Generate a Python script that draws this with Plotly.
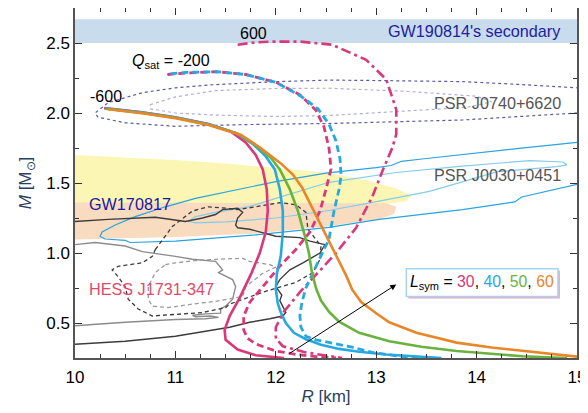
import plotly.graph_objects as go

# ---------------- data ----------------
# Mass-radius curves, Q_sat = -600, L_sym = 30, 40, 50, 60
R_L30 = [10.29, 10.67, 11.0, 11.33, 11.55, 11.7, 11.8, 11.87, 11.91, 11.92, 11.9, 11.84, 11.76, 11.64, 11.54, 11.49, 11.5, 11.62, 11.8, 11.97, 12.08]
M_L30 = [2.035, 2.005, 1.97, 1.922, 1.868, 1.79, 1.70, 1.597, 1.455, 1.3, 1.15, 1.0, 0.86, 0.68, 0.55, 0.45, 0.38, 0.31, 0.27, 0.255, 0.25]

R_L40 = [10.30, 10.67, 11.0, 11.33, 11.6, 11.77, 11.9, 11.99, 12.04, 12.07, 12.07, 12.05, 12.01, 12.0, 12.02, 12.05, 12.1, 12.18, 12.3, 12.45, 12.63, 12.83, 13.1, 13.4, 13.65]
M_L40 = [2.033, 2.003, 1.968, 1.92, 1.857, 1.78, 1.69, 1.597, 1.455, 1.3, 1.15, 0.98, 0.85, 0.74, 0.64, 0.575, 0.5, 0.43, 0.384, 0.345, 0.315, 0.295, 0.275, 0.26, 0.25]

R_L50 = [10.31, 10.67, 11.0, 11.33, 11.62, 11.8, 11.95, 12.04, 12.14, 12.22, 12.29, 12.33, 12.36, 12.4, 12.45, 12.53, 12.63, 12.83, 13.13, 13.45, 13.8, 14.15, 14.46, 14.7, 14.9]
M_L50 = [2.03, 2.0, 1.966, 1.918, 1.852, 1.77, 1.68, 1.597, 1.455, 1.3, 1.12, 1.0, 0.86, 0.75, 0.66, 0.58, 0.51, 0.43, 0.37, 0.33, 0.30, 0.278, 0.262, 0.255, 0.25]

R_L60 = [10.33, 10.67, 11.0, 11.33, 11.65, 11.85, 12.05, 12.17, 12.26, 12.37, 12.44, 12.52, 12.6, 12.7, 12.76, 12.85, 13.0, 13.13, 13.4, 13.8, 14.15, 14.46, 14.75, 15.0]
M_L60 = [2.027, 1.998, 1.963, 1.915, 1.845, 1.75, 1.64, 1.56, 1.47, 1.31, 1.22, 1.1, 0.98, 0.84, 0.74, 0.65, 0.57, 0.505, 0.43, 0.36, 0.325, 0.30, 0.275, 0.26]

# Q_sat = -200 (L_sym = 30, 40)
R_Q200_L30 = [10.92, 11.1, 11.41, 11.7, 12.0, 12.24, 12.4, 12.48, 12.53, 12.55, 12.5, 12.44, 12.34, 12.2, 12.04, 11.87, 11.74, 11.68, 11.68, 11.72, 11.8, 12.0, 12.2, 12.4, 12.6]
M_Q200_L30 = [2.275, 2.285, 2.295, 2.275, 2.22, 2.13, 2.02, 1.9, 1.75, 1.6, 1.455, 1.3, 1.15, 1.025, 0.906, 0.76, 0.647, 0.55, 0.45, 0.39, 0.35, 0.30, 0.276, 0.26, 0.25]

R_Q200_L40 = [10.95, 11.1, 11.41, 11.7, 12.0, 12.25, 12.42, 12.53, 12.6, 12.64, 12.65, 12.63, 12.58, 12.53, 12.45, 12.37, 12.3, 12.26, 12.24, 12.25, 12.3, 12.4, 12.53, 12.76, 12.96, 13.2, 13.45]
M_Q200_L40 = [2.28, 2.29, 2.295, 2.275, 2.22, 2.12, 2.03, 1.92, 1.8, 1.67, 1.55, 1.455, 1.3, 1.1, 0.98, 0.86, 0.75, 0.65, 0.55, 0.47, 0.405, 0.38, 0.36, 0.327, 0.29, 0.265, 0.25]

# Q_sat = 600 (L_sym = 30)
R_Q600_L30 = [11.62, 11.8, 11.97, 12.24, 12.56, 12.9, 13.1, 13.2, 13.2, 13.16, 13.07, 12.96, 12.8, 12.6, 12.42, 12.24, 12.08, 12.0, 12.0, 12.07, 12.3, 12.66]
M_Q600_L30 = [2.488, 2.505, 2.51, 2.51, 2.488, 2.38, 2.24, 2.024, 1.85, 1.75, 1.6, 1.4, 1.18, 1.0, 0.86, 0.72, 0.58, 0.47, 0.39, 0.334, 0.29, 0.25]

# GW190814's secondary band
GW190814_R = [10.0, 15.0, 15.0, 10.0]
GW190814_M = [2.50, 2.50, 2.67, 2.67]

# GW170817 bands
GW170817_outer_R = [10.0, 10.5, 11.0, 11.5, 12.0, 12.5, 12.9, 13.2, 13.35, 13.3, 13.1, 10.0]
GW170817_outer_M = [1.70, 1.685, 1.665, 1.64, 1.61, 1.575, 1.52, 1.46, 1.41, 1.37, 1.35, 1.35]
GW170817_inner_R = [10.0, 12.9, 13.1, 13.2, 13.18, 13.05, 12.5, 11.8, 11.0, 10.0]
GW170817_inner_M = [1.36, 1.36, 1.355, 1.33, 1.28, 1.245, 1.19, 1.14, 1.115, 1.097]

# PSR J0740+6620 contours
J0740_outer_R = [15.2, 15.0, 14.4, 13.86, 13.0, 12.53, 12.0, 11.33, 11.0, 10.67, 10.33, 10.2, 10.23, 10.5, 11.0, 11.67, 12.53, 13.86, 15.0, 15.2]
J0740_outer_M = [2.175, 2.18, 2.205, 2.224, 2.232, 2.235, 2.224, 2.2, 2.18, 2.145, 2.074, 2.0, 1.97, 1.93, 1.905, 1.917, 1.925, 1.95, 2.0, 2.01]
J0740_inner_R = [10.75, 11.0, 11.4, 12.0, 12.53, 13.3, 14.0, 14.15, 13.9, 13.53, 12.53, 12.0, 11.4, 11.0, 10.75, 10.75]
J0740_inner_M = [2.06, 2.115, 2.16, 2.175, 2.177, 2.155, 2.12, 2.08, 2.04, 2.025, 1.982, 1.975, 1.985, 2.0, 2.03, 2.06]

# PSR J0030+0451 contours
J0030_outer_R = [15.2, 15.0, 14.4, 13.86, 13.5, 13.25, 13.15, 13.0, 12.5, 12.0, 11.6, 11.2, 10.9, 10.6, 10.4, 10.27, 10.25, 10.3, 10.5, 10.55, 11.0, 11.8, 12.53, 13.03, 13.86, 14.38, 14.45, 15.0, 15.2]
J0030_outer_M = [1.80, 1.79, 1.745, 1.70, 1.675, 1.655, 1.625, 1.61, 1.57, 1.51, 1.45, 1.39, 1.33, 1.26, 1.2, 1.15, 1.12, 1.1, 1.09, 1.075, 1.085, 1.13, 1.183, 1.24, 1.31, 1.365, 1.40, 1.49, 1.51]
J0030_inner_R = [11.13, 11.2, 11.4, 11.73, 12.0, 12.53, 13.2, 13.86, 14.53, 14.86, 14.9, 14.8, 14.2, 13.53, 13.03, 12.5, 12.0, 11.5, 11.2, 11.13]
J0030_inner_M = [1.225, 1.26, 1.29, 1.33, 1.39, 1.505, 1.575, 1.62, 1.66, 1.65, 1.63, 1.617, 1.58, 1.44, 1.37, 1.3, 1.25, 1.222, 1.215, 1.225]

# HESS J1731-347 contours
HESS_a_R = [10.0, 10.33, 10.8, 11.1, 11.27, 11.4, 11.47, 11.62, 11.67, 11.62, 11.6, 11.62, 11.74, 12.0, 12.24, 12.34, 12.49, 12.44, 12.27, 12.14, 12.04, 12.0, 12.06, 12.04, 12.1, 12.07, 11.94, 11.74, 11.54, 11.0, 10.5, 10.0]
HESS_a_M = [1.225, 1.24, 1.255, 1.225, 1.25, 1.275, 1.31, 1.32, 1.29, 1.25, 1.2, 1.18, 1.17, 1.12, 1.11, 1.085, 1.06, 1.0, 0.93, 0.88, 0.81, 0.76, 0.7, 0.66, 0.575, 0.55, 0.53, 0.505, 0.47, 0.405, 0.37, 0.348]
HESS_b_R = [10.0, 10.2, 10.5, 10.67, 11.0, 11.17, 11.4, 11.47, 11.43, 11.57, 11.6, 11.57, 11.5, 11.45, 11.45, 11.3, 11.17, 11.2, 11.35, 11.43, 11.3, 11.0, 10.5, 10.0]
HESS_b_M = [1.06, 1.075, 1.05, 1.01, 0.976, 0.955, 0.94, 0.88, 0.86, 0.81, 0.76, 0.67, 0.62, 0.6, 0.57, 0.565, 0.555, 0.545, 0.55, 0.54, 0.53, 0.525, 0.505, 0.48]
HESS_c_R = [10.8, 10.97, 11.17, 11.33, 11.5, 11.62, 11.8, 12.04, 12.2, 12.3, 12.32, 12.45, 12.44, 12.37, 12.2, 11.87, 11.54, 11.5, 11.27, 11.0, 10.77, 10.63, 10.53, 10.5, 10.43, 10.37, 10.43, 10.67, 10.77, 10.8]
HESS_c_M = [1.025, 1.19, 1.30, 1.33, 1.32, 1.31, 1.33, 1.36, 1.345, 1.29, 1.17, 1.05, 0.955, 0.86, 0.79, 0.72, 0.635, 0.61, 0.575, 0.56, 0.55, 0.6, 0.67, 0.76, 0.83, 0.88, 0.905, 0.93, 0.976, 1.025]
HESS_d_R = [10.9, 11.0, 11.2, 11.4, 11.67, 11.74, 11.94, 12.0, 11.87, 11.7, 11.67, 11.4, 11.17, 10.93, 10.77, 10.73, 10.73, 10.8, 10.9]
HESS_d_M = [0.917, 0.93, 0.945, 0.955, 0.962, 0.94, 0.917, 0.9, 0.855, 0.76, 0.69, 0.655, 0.635, 0.61, 0.62, 0.67, 0.76, 0.86, 0.917]

ARROW_TAIL = (12.12, 0.275)
ARROW_HEAD = (13.2, 0.775)

# ---------------- style ----------------
PINK = "#d9387a"
CYAN = "#29a8e0"
GREEN = "#6ab23e"
ORANGE = "#e8862a"
FONT = "Liberation Sans, Arial, sans-serif"

fig = go.Figure()

def fill(x, y, color):
    fig.add_trace(go.Scatter(x=x, y=y, mode="lines", fill="toself", fillcolor=color,
                             line=dict(width=0), hoverinfo="skip", showlegend=False))

def line(x, y, color, width, dash="solid"):
    fig.add_trace(go.Scatter(x=x, y=y, mode="lines", line=dict(color=color, width=width, dash=dash),
                             hoverinfo="skip", showlegend=False))

fill(GW190814_R, GW190814_M, "#c9dcee")
fill(GW170817_outer_R, GW170817_outer_M, "#fcf6b4")
fill(GW170817_inner_R, GW170817_inner_M, "#f9dbc0")

line(J0740_outer_R, J0740_outer_M, "#5a5aa8", 1.2, "dot")
line(J0740_inner_R, J0740_inner_M, "#b0aed6", 1.2, "dot")
line(J0030_outer_R, J0030_outer_M, "#2ba3de", 1.2)
line(J0030_inner_R, J0030_inner_M, "#86cbe8", 1.2)
line(HESS_a_R, HESS_a_M, "#3c3c3c", 1.4)
line(HESS_b_R, HESS_b_M, "#8c8c8c", 1.4)
line(HESS_c_R, HESS_c_M, "#3c3c3c", 1.3, "4px,3px")
line(HESS_d_R, HESS_d_M, "#9a9a9a", 1.3, "4px,3px")

line(R_Q600_L30, M_Q600_L30, PINK, 2.6, "10px,4px,3px,4px")
line(R_Q200_L30, M_Q200_L30, PINK, 2.8, "7px,4px")
line(R_Q200_L40, M_Q200_L40, CYAN, 2.8, "7px,4px")
line(R_L30, M_L30, PINK, 2.6)
line(R_L40, M_L40, CYAN, 2.6)
line(R_L50, M_L50, GREEN, 2.6)
line(R_L60, M_L60, ORANGE, 2.6)

# legend-like box with shadow
fig.add_shape(type="rect", xref="x", yref="y", x0=13.32, x1=14.83, y0=0.675, y1=0.873,
              fillcolor="#f2a6c6", line=dict(width=0), layer="above")
fig.add_shape(type="rect", xref="x", yref="y", x0=13.30, x1=14.81, y0=0.69, y1=0.888,
              fillcolor="white", line=dict(color="#a6d6ef", width=1.5), layer="above")

ann = []
def text(x, y, s, color="black", size=16, xanchor="center"):
    ann.append(dict(x=x, y=y, xref="x", yref="y", text=s, showarrow=False, xanchor=xanchor,
                    yanchor="middle", font=dict(family=FONT, size=size, color=color)))

text(14.86, 2.585, "GW190814's secondary", "#2020a0", 16.2, "right")
text(11.78, 2.57, "600")
text(10.96, 2.37, "<i>Q</i><sub>sat</sub> = -200")
text(10.31, 2.12, "-600")
text(14.86, 2.075, "PSR J0740+6620", "#555555", 16.2, "right")
text(14.86, 1.56, "PSR J0030+0451", "#555555", 16.2, "right")
text(10.12, 1.347, "GW170817", "#1a1aa0", 16.2, "left")
text(10.12, 0.74, "HESS J1731-347", "#e04a6a", 16.2, "left")
text(14.055, 0.79, "<i>L</i><sub>sym</sub> = <span style='color:%s'>30</span>, "
     "<span style='color:%s'>40</span>, <span style='color:%s'>50</span>, "
     "<span style='color:%s'>60</span>" % (PINK, CYAN, GREEN, ORANGE), size=15.8)

ann.append(dict(x=ARROW_HEAD[0], y=ARROW_HEAD[1], ax=ARROW_TAIL[0], ay=ARROW_TAIL[1],
                xref="x", yref="y", axref="x", ayref="y", text="", showarrow=True,
                arrowhead=2, arrowsize=1.2, arrowwidth=1, arrowcolor="black"))

axis_common = dict(showline=True, linecolor="#555555", linewidth=1.5, mirror="allticks",
                   ticks="inside", ticklen=7, tickwidth=1.2, tickcolor="#333333",
                   showgrid=False, zeroline=False, automargin=False,
                   tickfont=dict(family=FONT, size=17, color="black"))

# the page body adds an 8px offset, so the figure is 8px smaller than the window
fig.update_layout(
    width=580, height=405,
    margin=dict(l=67, r=11, t=0, b=55),
    paper_bgcolor="white", plot_bgcolor="white",
    annotations=ann,
    xaxis=dict(range=[10, 15], dtick=1, tick0=10, ticklabelstandoff=3,
               minor=dict(dtick=0.25, ticklen=4, ticks="inside", tickcolor="#333333"),
               title=dict(text="<i>R</i> [km]", standoff=4, font=dict(family=FONT, size=17)),
               **axis_common),
    yaxis=dict(range=[0.25, 2.75], dtick=0.5, tick0=0.5, tickformat=".1f",
               minor=dict(dtick=0.25, ticklen=4, ticks="inside", tickcolor="#333333"),
               title=dict(text="<i>M</i> [M<sub>⊙</sub>]", standoff=10, font=dict(family=FONT, size=17)),
               **axis_common),
)

fig.write_html("out.html")
